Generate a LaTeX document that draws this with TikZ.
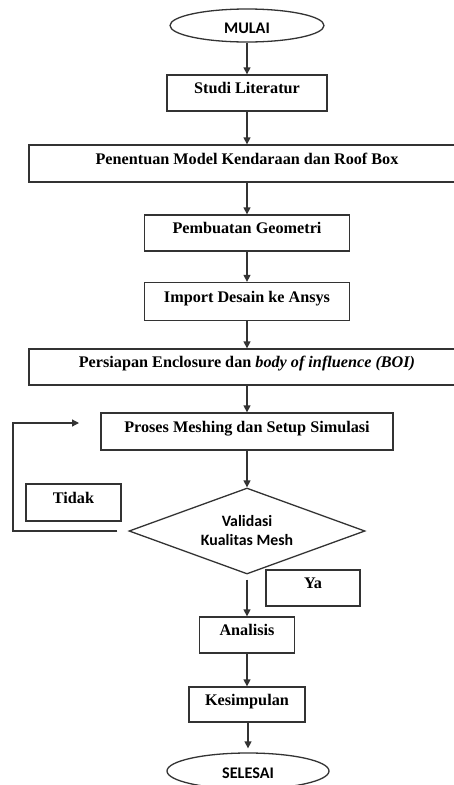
\documentclass[tikz,border=0pt]{standalone}
\usepackage{fontspec}
\setmainfont{Liberation Serif}
\newfontfamily\calfont{Carlito}
\usetikzlibrary{shapes.geometric,arrows.meta}
\newcommand\lift[1]{\raisebox{3.5pt}{#1}}
\begin{document}
\begin{tikzpicture}[x=1pt,y=-1pt,
  line/.style={draw=black!80, line width=1.3pt},
  box/.style={line, rectangle, inner sep=0pt, font=\bfseries\fontsize{16.2}{19}\selectfont, text height=11pt, text depth=3pt},
  term/.style={line, ellipse, inner sep=0pt, font=\calfont\bfseries\fontsize{16.2}{19}\selectfont, text height=10pt, text depth=0pt},
  decide/.style={line, diamond, aspect=2.74, inner sep=0pt, align=center, font=\calfont\bfseries\fontsize{15.8}{19}\selectfont},
  arr/.style={line, -{Triangle[length=7pt,width=7pt]}}]
\useasboundingbox (0,0) rectangle (454,785);
\clip (0,0) rectangle (454,785);

\node[term, minimum width=154pt, minimum height=33pt] (mulai) at (247,25.5) {\raisebox{-2.5pt}{MULAI}};
\node[box, minimum width=160pt, minimum height=36pt] (studi) at (247,93) {\lift{Studi Literatur}};
\node[box, minimum width=436pt, minimum height=37pt] (model) at (247,163.5) {\lift{Penentuan Model Kendaraan dan Roof Box}};
\node[box, minimum width=205pt, minimum height=36pt] (geom) at (247,233) {\lift{Pembuatan Geometri}};
\node[box, minimum width=205pt, minimum height=38pt] (import) at (247,301.5) {\lift{Import Desain ke Ansys}};
\node[box, minimum width=436pt, minimum height=36pt] (boi) at (247,367) {\lift{Persiapan Enclosure dan \textit{body of influence (BOI)}}};
\node[box, minimum width=292pt, minimum height=37pt] (mesh) at (247,431.5) {\lift{Proses Meshing dan Setup Simulasi}};
\node[decide, minimum width=236pt, minimum height=86pt] (valid) at (247,531) {Validasi\\Kualitas Mesh};
\node[box, minimum width=95pt, minimum height=37pt] (tidak) at (73.5,502.5) {\lift{Tidak}};
\node[box, minimum width=94pt, minimum height=36pt] (ya) at (313,588) {\lift{Ya}};
\node[box, minimum width=95pt, minimum height=36pt] (analisis) at (247,635) {\lift{Analisis}};
\node[box, minimum width=116pt, minimum height=35pt] (simpul) at (247,704.5) {\lift{Kesimpulan}};
\node[term, minimum width=162pt, minimum height=36pt] (selesai) at (248,771) {\raisebox{-2.5pt}{SELESAI}};

\coordinate (fbcorner) at (13,423);
\coordinate (fbtip) at (79,423);

\draw[arr] (mulai) -- (studi);
\draw[arr] (studi) -- (model);
\draw[arr] (model) -- (geom);
\draw[arr] (geom) -- (import);
\draw[arr] (import) -- (boi);
\draw[arr] (boi) -- (mesh);
\draw[arr] (mesh) -- (valid);
\draw[arr, shorten <=5pt] (valid.south) -- (analisis.north);
\draw[arr] (analisis) -- (simpul);
\draw[arr, shorten >=4pt] (simpul.south -| selesai.north) -- (selesai.north);
\draw[arr] ([xshift=-11pt]valid.west) -| (fbcorner) -- (fbtip);
\end{tikzpicture}
\end{document}
